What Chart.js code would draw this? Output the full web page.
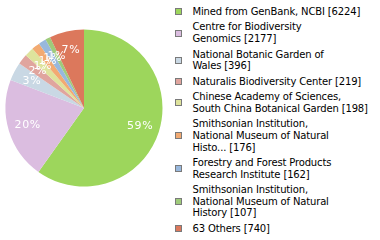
<!DOCTYPE html>
<html><head><meta charset="utf-8">
<script src="https://cdn.jsdelivr.net/npm/chart.js@4"></script>
<style>
html,body{margin:0;padding:0;background:#fff;width:380px;height:240px;overflow:hidden}
#wrap{position:relative;width:380px;height:240px}
#c{position:absolute;left:0;top:0}
#legend{position:absolute;left:175px;top:5.9px;font-family:"DejaVu Sans";font-size:10px;letter-spacing:-0.15px;color:#000;white-space:nowrap}
.item{position:relative;padding-left:17.5px;line-height:11.6px;margin-bottom:3.95px}
.sw{position:absolute;left:0;top:50%;width:5px;height:5px;margin-top:-3.5px;border:1px solid #7a7a7a}
</style></head>
<body><div id="wrap"><canvas id="c" width="170" height="240"></canvas><div id="legend"></div></div>
<script>
const categories = [
  ["Mined from GenBank, NCBI"],
  ["Centre for Biodiversity", "Genomics"],
  ["National Botanic Garden of", "Wales"],
  ["Naturalis Biodiversity Center"],
  ["Chinese Academy of Sciences,", "South China Botanical Garden"],
  ["Smithsonian Institution,", "National Museum of Natural", "Histo..."],
  ["Forestry and Forest Products", "Research Institute"],
  ["Smithsonian Institution,", "National Museum of Natural", "History"],
  ["63 Others"]
];
const values = [6224, 2177, 396, 219, 198, 176, 162, 107, 740];
const colors = ["#9dd65c", "#dbbde0", "#c9d8e4", "#e0a59e", "#dee39c", "#f2aa72", "#98b8dd", "#9fcb7b", "#dc785c"];

const total = values.reduce((a, b) => a + b, 0);

const pctLabels = {
  id: 'pctLabels',
  afterDatasetsDraw(chart) {
    const ctx = chart.ctx;
    const meta = chart.getDatasetMeta(0);
    ctx.save();
    ctx.font = '11px "DejaVu Sans"';
    if ('letterSpacing' in ctx) ctx.letterSpacing = '0.6px';
    ctx.fillStyle = '#ffffff';
    ctx.textAlign = 'center';
    ctx.textBaseline = 'middle';
    meta.data.forEach((arc, i) => {
      const p = arc.getProps(['x', 'y', 'startAngle', 'endAngle', 'outerRadius'], true);
      const mid = (p.startAngle + p.endAngle) / 2;
      const r = p.outerRadius * 0.75;
      const txt = Math.floor(values[i] / total * 100) + '%';
      ctx.fillText(txt, p.x + Math.cos(mid) * r, p.y + Math.sin(mid) * r);
    });
    ctx.restore();
  }
};

new Chart(document.getElementById('c'), {
  type: 'pie',
  data: {
    labels: categories.map(c => c.join(' ')),
    datasets: [{ data: values, backgroundColor: colors, borderWidth: 0 }]
  },
  options: {
    responsive: false,
    animation: false,
    devicePixelRatio: 1,
    layout: { padding: { left: 5.5, right: 7.5, top: 29.5, bottom: 53.5 } },
    plugins: { legend: { display: false }, tooltip: { enabled: false } }
  },
  plugins: [pctLabels]
});

const legend = document.getElementById('legend');
categories.forEach((lines, i) => {
  const item = document.createElement('div');
  item.className = 'item';
  const sw = document.createElement('span');
  sw.className = 'sw';
  sw.style.background = colors[i];
  item.appendChild(sw);
  lines.forEach((ln, j) => {
    const d = document.createElement('div');
    d.textContent = j === lines.length - 1 ? ln + ' [' + values[i] + ']' : ln;
    item.appendChild(d);
  });
  legend.appendChild(item);
});
</script>
</body></html>
